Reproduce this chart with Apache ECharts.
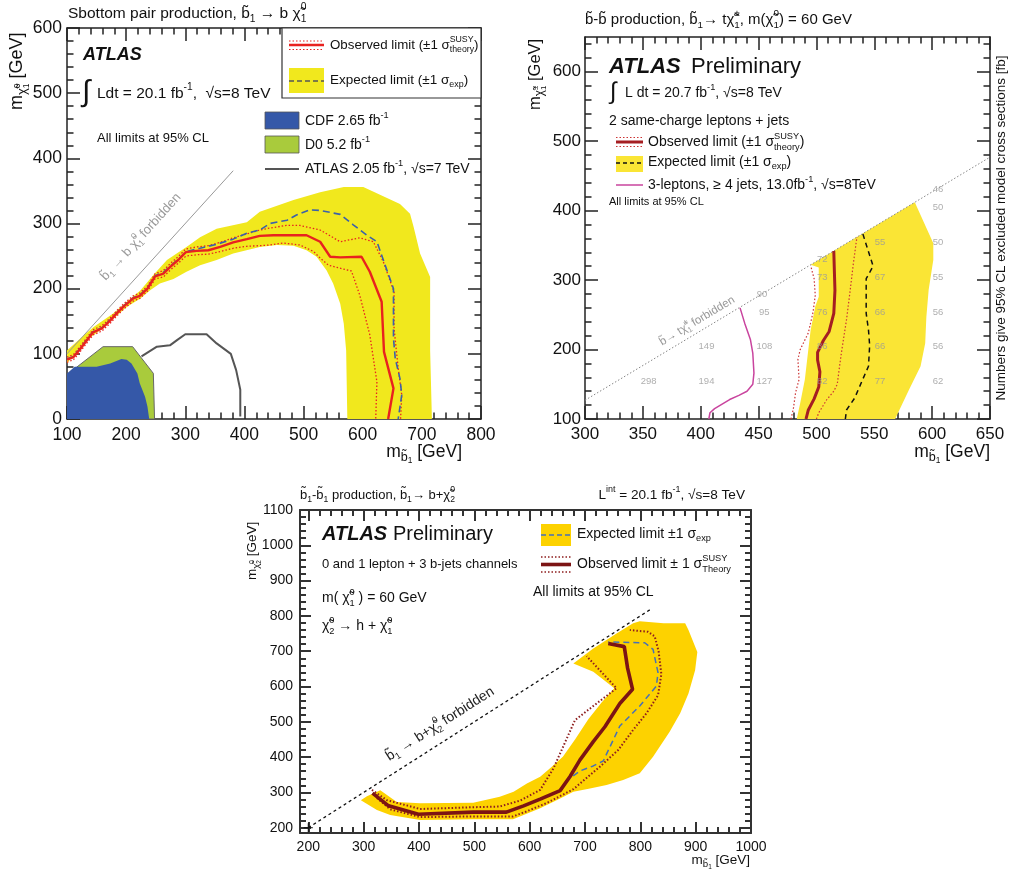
<!DOCTYPE html>
<html>
<head>
<meta charset="utf-8">
<script src="https://cdn.jsdelivr.net/npm/echarts@6/dist/echarts.min.js"></script>
<style>
  html, body { margin: 0; padding: 0; background: #fff; }
  #chart { width: 1009px; height: 881px; }
</style>
</head>
<body>
<div id="chart"></div>
<script>
// ===================== Panel A: sbottom -> b + neutralino =====================
const aXTicks = [100, 200, 300, 400, 500, 600, 700, 800];
const aYTicks = [0, 100, 200, 300, 400, 500, 600];
// CDF 2.65 fb-1 excluded region
const aCDF = [[100,0],[100,70],[113,80],[150,80],[173,85],[192,92],[201,91],[209,85],[219,70],[223,55],[232,34],[236,19],[239,0]];
// D0 5.2 fb-1 excluded region
const aD0 = [[100,0],[100,68],[161,111],[211,111],[246,70],[248,0]];
// ATLAS 2.05 fb-1, 7 TeV contour
const aAtlas7 = [[226,96],[238,103],[252,111],[274,113],[286,121],[300,130],[336,130],[353,116],[377,100],[386,75],[393,45],[393,4]];
// expected limit +-1 sigma band
const aBand = [[100,105],[122,123],[145,141],[178,162],[201,180],[224,197],[246,221],[269,244],[302,264],[325,279],[353,292],[404,302],[426,318],[483,336],[528,348],[568,356],[601,356],[663,330],[680,315],[686,295],[697,254],[714,218],[714,105],[717,0],
  [574,0],[572,105],[568,146],[562,177],[550,208],[539,228],[522,249],[505,259],[483,266],[455,267],[426,264],[381,254],[353,244],[325,236],[302,226],[280,215],[257,208],[240,197],[224,185],[201,172],[178,154],[156,136],[133,121],[111,98],[100,85]];
const aExpected = [[100,92],[111,96],[122,108],[144,134],[159,140],[173,152],[184,163],[195,173],[212,186],[223,190],[236,201],[249,220],[263,225],[274,234],[288,245],[302,257],[325,262],[353,268],[381,276],[404,285],[426,290],[443,300],[472,305],[488,313],[511,321],[528,320],[562,314],[584,298],[607,282],[624,272],[638,236],[652,200],[652,124],[655,93],[663,62],[666,37],[660,0]];
const aObserved = [[100,91],[111,95],[122,107],[144,133],[159,139],[173,151],[184,162],[195,172],[212,185],[223,189],[236,200],[249,219],[263,223],[274,233],[288,244],[301,256],[319,258],[339,259],[359,264],[381,271],[404,276],[426,281],[449,282],[477,282],[505,282],[528,272],[545,249],[562,248],[598,249],[612,226],[632,180],[636,103],[652,47],[643,0]];
const aObsUp = [[100,95],[111,99],[122,111],[144,137],[159,143],[173,155],[184,166],[195,176],[212,189],[223,193],[236,204],[249,223],[263,228],[274,238],[288,249],[301,261],[319,264],[339,266],[359,271],[381,278],[404,284],[426,290],[443,293],[471,297],[494,297],[528,290],[562,272],[595,278],[618,272],[635,241],[653,195],[653,139],[660,78],[666,37],[664,0]];
const aObsDown = [[100,87],[111,91],[122,103],[144,129],[159,135],[173,147],[184,158],[195,168],[212,181],[223,185],[236,196],[249,215],[263,218],[274,228],[288,239],[301,250],[319,252],[339,253],[359,257],[381,262],[404,265],[426,266],[443,267],[466,270],[494,267],[517,257],[528,247],[542,236],[581,227],[595,190],[612,129],[624,57],[622,0]];
const aKinematic = [[100,100],[381,381]];

// ===================== Panel B: sbottom -> t + chargino =====================
const bXTicks = [300, 350, 400, 450, 500, 550, 600, 650];
const bYTicks = [100, 200, 300, 400, 500, 600];
const bBand = [[483,100],[486,123],[490,157],[493,200],[495,228],[499,262],[502,276],[502,318],[495,322],[585,412],[601,353],[601,329],[597,286],[595,247],[594,209],[590,176],[580,142],[568,100]];
const bObserved = [[491,100],[493,113],[498,129],[502,146],[503,168],[501,185],[501,196],[506,213],[511,226],[515,252],[516,285],[515,342]];
const bObsDown = [[478,100],[480,114],[482,138],[485,157],[484,186],[486,200],[493,224],[497,253],[499,278],[498,302],[495,321]];
const bObsUp = [[500,100],[502,109],[509,128],[515,140],[518,150],[520,176],[522,200],[526,243],[529,283],[532,325],[535,362]];
const bExpected = [[525,100],[526,113],[533,130],[540,157],[545,176],[546,206],[545,228],[543,252],[543,281],[543,302],[549,320],[540,367]];
const bThreeLep = [[407,100],[408,109],[412,115],[425,128],[433,134],[440,140],[445,150],[446,166],[445,195],[443,214],[438,238],[434,260]];
const bKinematic = [[300,127],[650,477]];
// excluded model cross sections [fb]: [m_sbottom, m_chargino, value]
const bXsec = [[355,154,298],[405,154,194],[405,204,149],[455,154,127],[455,204,108],[455,254,95],[453,280,90],
  [505,154,82],[505,204,86],[505,254,76],[505,304,73],[505,330,72],
  [555,154,77],[555,204,66],[555,254,66],[555,304,67],[555,354,55],
  [605,154,62],[605,204,56],[605,254,56],[605,304,55],[605,354,50],[605,404,50],[605,430,46]];

// ===================== Panel C: sbottom -> b + neutralino2 =====================
const cXTicks = [200, 300, 400, 500, 600, 700, 800, 900, 1000];
const cYTicks = [200, 300, 400, 500, 600, 700, 800, 900, 1000, 1100];
const cBand = [[295,278],[324,250],[348,236],[402,222],[498,224],[570,224],[589,236],[619,255],[655,283],[679,302],[709,311],[739,321],[769,335],[799,354],[823,401],[853,472],[872,524],[887,580],[899,646],[903,698],[887,760],[881,779],[842,779],[799,785],[787,779],[757,750],[715,708],[679,665],[715,642],[753,595],[730,555],[706,507],[682,450],[660,401],[640,373],[619,344],[595,325],[571,302],[546,288],[498,271],[402,269],[360,273],[330,306],[306,289]];
const cObserved = [[316,298],[345,262],[399,238],[498,244],[558,244],[589,262],[619,281],[655,305],[673,345],[691,392],[715,444],[736,486],[763,552],[786,592],[777,652],[771,713],[742,722]];
const cExpected = [[655,305],[667,333],[691,361],[715,375],[733,389],[763,488],[799,545],[829,601],[832,639],[823,705],[808,724],[742,726]];
const cObsIn = [[315,307],[342,278],[402,253],[498,258],[546,260],[583,277],[619,307],[643,368],[682,505],[757,595],[703,686]];
const cObsOut = [[324,284],[348,252],[402,230],[498,232],[570,232],[594,246],[631,270],[679,309],[727,373],[760,420],[787,477],[811,524],[832,575],[838,635],[833,700],[826,742],[814,755],[781,760]];
const cKinematic = [[200,200],[820,820]];

// ------------------------------------------------------------------
const FONT = "'Liberation Sans', Arial, Helvetica, sans-serif";
const chart = echarts.init(document.getElementById('chart'), null, { renderer: 'canvas' });

function range(a, b, step) { const r = []; for (let v = a; v <= b + 1e-9; v += step) r.push(Math.round(v * 1000) / 1000); return r; }

// four axes per dimension: labelled main side, mirrored side, and the short minor ticks on both
function axesFor(gridIndex, dim, min, max, major, minor, o) {
  const pos = dim === 'x' ? ['bottom', 'top'] : ['left', 'right'];
  const line = { color: o.color, width: o.width };
  const base = { type: 'value', gridIndex, min, max, splitLine: { show: false }, silent: true };
  return [
    Object.assign({}, base, { position: pos[0],
      axisLine: { show: true, onZero: false, lineStyle: line },
      axisTick: { show: true, inside: true, length: o.major, lineStyle: line, customValues: major },
      axisLabel: { show: true, customValues: major, fontSize: o.font, color: '#111', fontFamily: FONT, margin: o.margin,
        formatter: v => String(v) } }),
    Object.assign({}, base, { position: pos[1],
      axisLine: { show: true, onZero: false, lineStyle: line },
      axisTick: { show: true, inside: true, length: o.major, lineStyle: line, customValues: major },
      axisLabel: { show: false } }),
    Object.assign({}, base, { position: pos[0],
      axisLine: { show: false, onZero: false },
      axisTick: { show: true, inside: true, length: o.minor, lineStyle: line, customValues: minor },
      axisLabel: { show: false } }),
    Object.assign({}, base, { position: pos[1],
      axisLine: { show: false, onZero: false },
      axisTick: { show: true, inside: true, length: o.minor, lineStyle: line, customValues: minor },
      axisLabel: { show: false } })
  ];
}

function lineSeries(p, data, color, width, type, z) {
  return { type: 'line', xAxisIndex: 4 * p, yAxisIndex: 4 * p, data, showSymbol: false, symbol: 'none',
    silent: true, z: z || 3, clip: true, lineStyle: { color, width, type: type || 'solid' } };
}
function polySeries(p, pts, fill, stroke, lw, z) {
  return { type: 'custom', xAxisIndex: 4 * p, yAxisIndex: 4 * p, clip: true, silent: true, z: z || 2, data: pts,
    renderItem(params, api) {
      if (params.dataIndex !== 0) return null;
      return { type: 'polygon', shape: { points: pts.map(q => api.coord(q)) },
        style: { fill, stroke: stroke || 'none', lineWidth: lw || 0 } };
    } };
}

// ---------- text helpers (sub/superscripts laid out by hand) ----------
const mctx = document.createElement('canvas').getContext('2d');
function textW(t, size, weight, style) {
  mctx.font = (style || 'normal') + ' ' + (weight || 'normal') + ' ' + size + 'px ' + FONT;
  return mctx.measureText(t).width;
}
function rich(segs, size, opt) {
  const color = opt.color || '#111', weight = opt.weight || 'normal', fstyle = opt.fontStyle || 'normal';
  const kids = [];
  let x = 0;
  const put = (t, dx, dy, fs) => {
    kids.push({ type: 'text', x: dx, y: dy, z: 101,
      style: { text: t, fontSize: fs, fontFamily: FONT, fontWeight: weight, fontStyle: fstyle, fill: color, align: 'left', verticalAlign: 'middle' } });
    return textW(t, fs, weight, fstyle);
  };
  for (const sg of segs) {
    if (typeof sg === 'string') { x += put(sg, x, 0, size); continue; }
    if (Array.isArray(sg)) {
      const fs = size * 0.66;
      if (sg[0] === '^') x += put(sg[1], x, -size * 0.42, fs);
      else if (sg[0] === '_') x += put(sg[1], x, size * 0.34, fs);
      else { const a = put(sg[1], x, -size * 0.42, fs); const b = put(sg[2], x, size * 0.36, fs); x += Math.max(a, b); }
      continue;
    }
    const fs = size * (sg.scale || 1), dy = size * (sg.dy || 0);
    if (sg.sup !== undefined) { const a = put(sg.sup, x, dy - fs * 0.55, fs); const b = put(sg.sub, x, dy + fs * 0.5, fs); x += Math.max(a, b); }
    else x += put(sg.t, x, dy, fs);
  }
  return { kids, width: x };
}
function label(segs, size, x, y, opt) {
  opt = opt || {};
  const r = rich(segs, size, opt);
  const ox = opt.align === 'right' ? -r.width : (opt.align === 'center' ? -r.width / 2 : 0);
  r.kids.forEach(k => { k.x += ox; });
  return { type: 'group', x, y, rotation: opt.rotation || 0, z: 101, children: r.kids };
}
const deg = d => d * Math.PI / 180;
const hline = (x1, x2, y, stroke, w, dash) => ({ type: 'line', z: 101, shape: { x1, y1: y, x2, y2: y }, style: { stroke, lineWidth: w, lineDash: dash || null } });
const box = (x, y, w, h, fill, stroke, lw) => ({ type: 'rect', z: 100, shape: { x, y, width: w, height: h }, style: { fill, stroke: stroke || null, lineWidth: lw || 0 } });

// sub-scripted particle symbols used in axis titles
const subChi = (up, low) => [{ t: 'χ̃', dy: 0.3, scale: 0.72 }, { sup: up, sub: low, dy: 0.3, scale: 0.48 }];
const subB1 = [{ t: 'b̃', dy: 0.3, scale: 0.72 }, { t: '1', dy: 0.52, scale: 0.48 }];

// ---------- colours ----------
const A_YEL = '#F1E81D', A_RED = '#E8221F', A_BLUE = '#3B61AA';
const B_YEL = '#FAE535', B_RED = '#A51E22', B_DOT = '#CC3333', B_MAG = '#C9449E';
const C_YEL = '#FDD200', C_RED = '#7C1414', C_BLUE = '#4670B8';

const axA = { color: '#222', width: 1.5, major: 13, minor: 6.5, font: 17.5, margin: 7 };
const axAy = Object.assign({}, axA, { margin: 5 });
const axB = { color: '#222', width: 1.5, major: 13, minor: 6.5, font: 17, margin: 7 };
const axBy = Object.assign({}, axB, { margin: 4 });
const axC = { color: '#333', width: 2, major: 11, minor: 6, font: 14, margin: 7 };

const option = {
  animation: false,
  backgroundColor: '#fff',
  grid: [
    { left: 67, top: 28, width: 414, height: 391 },
    { left: 585, top: 37, width: 405, height: 382 },
    { left: 300, top: 510, width: 451, height: 323 }
  ],
  xAxis: [
    ...axesFor(0, 'x', 100, 800, aXTicks, range(100, 800, 20), axA),
    ...axesFor(1, 'x', 300, 650, bXTicks, range(300, 650, 10), axB),
    ...axesFor(2, 'x', 185, 1000, cXTicks, range(200, 1000, 20), axC)
  ],
  yAxis: [
    ...axesFor(0, 'y', 0, 600, aYTicks, range(0, 600, 20), axAy),
    ...axesFor(1, 'y', 100, 650, bYTicks, range(100, 640, 20), axBy),
    ...axesFor(2, 'y', 185, 1100, cYTicks, range(200, 1100, 20), axC)
  ],
  series: [
    // panel A
    polySeries(0, aD0, '#A9CB3C', '#666', 1, 2),
    polySeries(0, aCDF, '#3558A8', null, 0, 2),
    lineSeries(0, aAtlas7, '#555', 2, 'solid', 3),
    polySeries(0, aBand, A_YEL, null, 0, 4),
    lineSeries(0, aKinematic, '#999', 1, 'solid', 5),
    lineSeries(0, aObsDown, A_RED, 1.3, [1.5, 2], 6),
    lineSeries(0, aObsUp, A_RED, 1.3, [1.5, 2], 6),
    lineSeries(0, aExpected, A_BLUE, 1.6, [7, 4], 7),
    lineSeries(0, aObserved, A_RED, 2.4, 'solid', 8),
    // panel B
    polySeries(1, bBand, B_YEL, null, 0, 2),
    lineSeries(1, bKinematic, '#888', 1, [1.5, 2], 3),
    lineSeries(1, bObsDown, B_DOT, 1.2, [1.5, 2], 4),
    lineSeries(1, bObsUp, B_DOT, 1.2, [1.5, 2], 4),
    lineSeries(1, bExpected, '#111', 1.5, [5, 4], 5),
    lineSeries(1, bObserved, B_RED, 3, 'solid', 6),
    lineSeries(1, bThreeLep, B_MAG, 1.5, 'solid', 6),
    { type: 'scatter', xAxisIndex: 4, yAxisIndex: 4, data: bXsec, symbolSize: 1, silent: true, z: 7,
      itemStyle: { color: 'rgba(0,0,0,0)' },
      label: { show: true, position: 'inside', formatter: p => String(p.value[2]), fontSize: 9.5, color: '#9a9a9a', fontFamily: FONT } },
    // panel C
    polySeries(2, cBand, C_YEL, null, 0, 2),
    lineSeries(2, cKinematic, '#111', 1.3, [3, 3], 3),
    { type: 'scatter', xAxisIndex: 8, yAxisIndex: 8, data: [cKinematic[0]], symbol: 'path://M0,5L10,5M5,0L5,10', symbolSize: 9,
      silent: true, z: 3, itemStyle: { color: 'rgba(0,0,0,0)', borderColor: '#111', borderWidth: 1.2 } },
    lineSeries(2, cObsIn, '#8E1E1E', 2, [1.5, 2], 4),
    lineSeries(2, cObsOut, '#8E1E1E', 2, [1.5, 2], 4),
    lineSeries(2, cExpected, C_BLUE, 1.5, [6, 4], 5),
    lineSeries(2, cObserved, C_RED, 3.6, 'solid', 6)
  ],
  graphic: [
    // ---- panel A annotations ----
    label(['Sbottom pair production, b̃', ['_', '1'], ' → b χ̃', ['^_', '0', '1']], 15.5, 68, 14),
    label(['ATLAS'], 18, 83, 55, { weight: 'bold', fontStyle: 'italic' }),
    label(['∫'], 30, 82, 93),
    label(['Ldt = 20.1 fb', ['^', '-1'], ',  √s=8 TeV'], 15.5, 97, 94),
    label(['All limits at 95% CL'], 13, 97, 138),
    box(282, 28, 199, 70, '#fff', '#333', 1.2),
    hline(289, 324, 41, A_RED, 1.2, [1.5, 2]),
    hline(289, 324, 45, A_RED, 2.4),
    hline(289, 324, 49.5, A_RED, 1.2, [1.5, 2]),
    label(['Observed limit (±1 σ', ['^_', 'SUSY', 'theory'], ')'], 13.3, 330, 45),
    box(289, 68, 35, 25, A_YEL),
    hline(289, 324, 81, '#555', 1.5, [5, 3]),
    label(['Expected limit (±1 σ', ['_', 'exp'], ')'], 13.5, 330, 80),
    box(265, 112, 34, 17, '#3558A8', '#555', 0.8),
    label(['CDF 2.65 fb', ['^', '-1']], 14, 305, 121),
    box(265, 136, 34, 17, '#A9CB3C', '#555', 0.8),
    label(['D0 5.2 fb', ['^', '-1']], 14, 305, 145),
    hline(265, 299, 169, '#555', 2),
    label(['ATLAS 2.05 fb', ['^', '-1'], ', √s=7 TeV'], 14, 305, 169),
    label(['b̃', ['_', '1'], ' → b χ̃', ['^_', '0', '1'], ' forbidden'], 13, 141, 237, { align: 'center', rotation: deg(47.8), color: '#9a9a9a' }),
    label(['m', ...subChi('0', '1'), ' [GeV]'], 18, 17, 110, { rotation: deg(90) }),
    label(['m', ...subB1, ' [GeV]'], 17.5, 462, 452, { align: 'right' }),

    // ---- panel B annotations ----
    label(['b̃-b̃ production, b̃', ['_', '1'], '→ tχ̃', ['^_', '±', '1'], ', m(χ̃', ['^_', '0', '1'], ') = 60 GeV'], 15, 585, 20),
    label(['ATLAS'], 22, 609, 67, { weight: 'bold', fontStyle: 'italic' }),
    label(['Preliminary'], 22, 691, 67),
    label(['∫'], 24, 610, 92),
    label(['L dt = 20.7 fb', ['^', '-1'], ', √s=8 TeV'], 14, 625, 93),
    label(['2 same-charge leptons + jets'], 14, 609, 121),
    hline(616, 643, 137.5, B_DOT, 1.2, [1.5, 2]),
    hline(616, 643, 142, B_RED, 3),
    hline(616, 643, 146.5, B_DOT, 1.2, [1.5, 2]),
    label(['Observed limit (±1 σ', ['^_', 'SUSY', 'theory'], ')'], 14, 648, 142),
    box(616, 156, 27, 16, B_YEL),
    hline(616, 643, 163, '#111', 1.5, [4, 3]),
    label(['Expected limit (±1 σ', ['_', 'exp'], ')'], 14, 648, 162),
    hline(616, 643, 185, B_MAG, 1.5),
    label(['3-leptons, ≥ 4 jets, 13.0fb', ['^', '-1'], ', √s=8TeV'], 14, 648, 185),
    label(['All limits at 95% CL'], 11, 609, 202),
    label(['b̃→ tχ̃', ['^_', '±', '1'], ' forbidden'], 11.5, 697, 321, { align: 'center', rotation: deg(31), color: '#999' }),
    label(['Numbers give 95% CL excluded model cross sections [fb]'], 13.5, 1001, 228, { align: 'center', rotation: deg(90) }),
    label(['m', ...subChi('±', '1'), ' [GeV]'], 16.5, 535, 110, { rotation: deg(90) }),
    label(['m', ...subB1, ' [GeV]'], 17.5, 990, 452, { align: 'right' }),

    // ---- panel C annotations ----
    label(['b̃', ['_', '1'], '-b̃', ['_', '1'], ' production, b̃', ['_', '1'], '→ b+χ̃', ['^_', '0', '2']], 13, 300, 495),
    label(['L', ['^', 'int'], ' = 20.1 fb', ['^', '-1'], ', √s=8 TeV'], 13.6, 745, 495, { align: 'right' }),
    label(['ATLAS'], 20, 322, 534, { weight: 'bold', fontStyle: 'italic' }),
    label(['Preliminary'], 20, 393, 534),
    label(['0 and 1 lepton + 3 b-jets channels'], 13, 322, 564),
    label(['m( χ̃', ['^_', '0', '1'], ' ) = 60 GeV'], 14, 322, 598),
    label(['χ̃', ['^_', '0', '2'], ' → h + χ̃', ['^_', '0', '1']], 14, 322, 626),
    box(541, 524, 30, 22, C_YEL),
    hline(541, 571, 535, C_BLUE, 1.5, [5, 3]),
    label(['Expected limit ±1 σ', ['_', 'exp']], 14, 577, 534),
    hline(541, 571, 557, '#8E1E1E', 1.6, [1.5, 2]),
    hline(541, 571, 564.5, C_RED, 3.6),
    hline(541, 571, 572, '#8E1E1E', 1.6, [1.5, 2]),
    label(['Observed limit ± 1 σ', ['^_', 'SUSY', 'Theory']], 14, 577, 564),
    label(['All limits at 95% CL'], 14, 533, 592),
    label(['b̃', ['_', '1'], ' → b+χ̃', ['^_', '0', '2'], ' forbidden'], 14, 440, 724, { align: 'center', rotation: deg(32.5), color: '#222' }),
    label(['m', ...subChi('0', '2'), ' [GeV]'], 13.5, 252, 580, { rotation: deg(90) }),
    label(['m', ...subB1, ' [GeV]'], 13.5, 750, 860, { align: 'right' })
  ]
};
chart.setOption(option);
</script>
</body>
</html>
